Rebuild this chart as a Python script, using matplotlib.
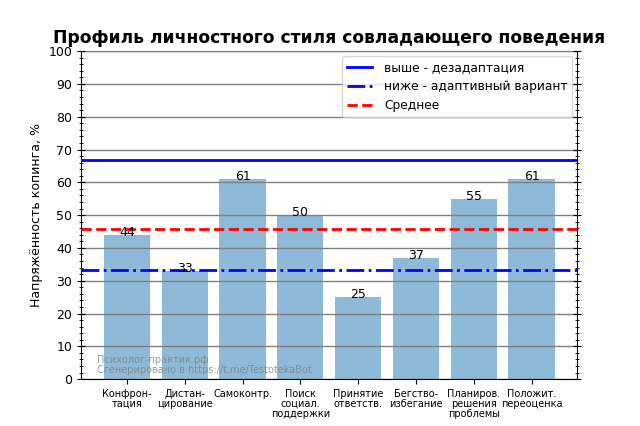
import matplotlib
matplotlib.use("Agg")
import matplotlib.pyplot as plt
from matplotlib.ticker import MultipleLocator

categories = ["Конфрон-\nтация", "Дистан-\nцирование", "Самоконтр.", "Поиск\nсоциал.\nподдержки",
              "Принятие\nответств.", "Бегство-\nизбегание", "Планиров.\nрешения\nпроблемы",
              "Положит.\nпереоценка"]
values = [44, 33, 61, 50, 25, 37, 55, 61]
upper_level = 66.7
lower_level = 33.3
mean_level = sum(values) / len(values)

fig = plt.figure(figsize=(6.4, 4.26), dpi=100)
ax = fig.add_axes([0.127, 0.110, 0.775, 0.770])

x = list(range(len(values)))
ax.bar(x, values, width=0.8, color="tab:blue", alpha=0.5, zorder=2)
for xi, v in zip(x, values):
    ax.text(xi, v + 0.8, str(v), ha="center", va="center", fontsize=9, zorder=4)

ax.axhline(upper_level, color="blue", lw=2, ls="-", label="выше - дезадаптация", zorder=3)
ax.axhline(lower_level, color="blue", lw=2, ls="-.", label="ниже - адаптивный вариант", zorder=3)
ax.axhline(mean_level, color="red", lw=2, ls="--", label="Среднее", zorder=3)

ax.set_ylim(0, 100)
ax.yaxis.set_major_locator(MultipleLocator(10))
ax.yaxis.set_minor_locator(MultipleLocator(2))
ax.tick_params(axis="y", which="both", direction="inout", right=True, labelsize=9)
ax.tick_params(axis="y", which="major", length=6)
ax.tick_params(axis="y", which="minor", length=3)
ax.grid(axis="y", which="major", color="gray", lw=1, zorder=1)
ax.set_axisbelow(False)

ax.set_xticks(x)
ax.set_xticklabels(categories, fontsize=7, linespacing=1.0)
ax.set_ylabel("Напряжённость копинга, %", fontsize=9)
ax.set_title("Профиль личностного стиля совладающего поведения", fontsize=12.3, fontweight="bold")
ax.legend(loc="upper right", fontsize=8.8, handletextpad=1.0, borderaxespad=0.4)

ax.text(0.032, 0.012, "Психолог-практик.рф\nСгенерировано в https://t.me/TestotekaBot",
        transform=ax.transAxes, fontsize=7, color="gray", alpha=0.8, ha="left", va="bottom",
        linespacing=1.0, zorder=5)

fig.savefig("out.png", dpi=100)
